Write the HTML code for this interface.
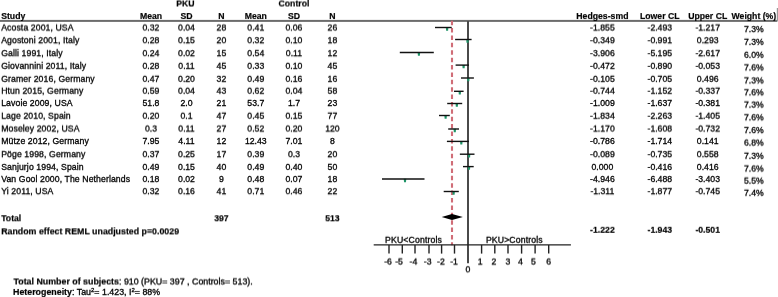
<!DOCTYPE html><html><head><meta charset="utf-8"><style>html,body{margin:0;padding:0;background:#fff;overflow:hidden;width:778px;height:297px;}body{position:relative;}svg{display:block;position:absolute;left:0;top:0;overflow:visible;}.L{position:absolute;left:0;width:778px;height:18px;will-change:transform;}text{font-family:"Liberation Sans",sans-serif;fill:#000;stroke:#000;stroke-width:0.32px;}.t{font-size:9.483px;}.f{font-size:8.70px;}.b{font-weight:bold;stroke-width:0.2px;}.m{text-anchor:middle;}</style></head><body>
<svg width="778" height="297" viewBox="0 0 778 297" style="will-change:transform">
<rect x="0" y="19.9" width="777" height="2" fill="#6c6c6c"/>
<rect x="776.8" y="8" width="1.2" height="13.5" fill="#9a9a9a"/>
<line x1="468" y1="21" x2="468" y2="263.2" stroke="#4a4a4a" stroke-width="2"/>
<line x1="452" y1="20.7" x2="452" y2="245.2" stroke="#d06d77" stroke-width="2.1" stroke-dasharray="4.5 2.887"/>
<polygon points="445.85,27.30 448.35,27.30 448.10,30.70 446.10,30.70" fill="#1f9468"/>
<line x1="435.0" y1="27.5" x2="451.7" y2="27.5" stroke="#111" stroke-width="1.4"/>
<polygon points="466.25,39.30 468.75,39.30 468.50,42.70 466.50,42.70" fill="#1f9468"/>
<line x1="455.1" y1="39.5" x2="471.6" y2="39.5" stroke="#111" stroke-width="1.4"/>
<polygon points="417.65,52.35 420.15,52.35 419.90,55.75 417.90,55.75" fill="#1f9468"/>
<line x1="399.8" y1="52.55" x2="433.8" y2="52.55" stroke="#111" stroke-width="1.4"/>
<polygon points="462.35,64.90 464.85,64.90 464.60,68.30 462.60,68.30" fill="#1f9468"/>
<line x1="455.6" y1="65.1" x2="469.0" y2="65.1" stroke="#111" stroke-width="1.4"/>
<polygon points="467.05,77.80 469.55,77.80 469.30,81.20 467.30,81.20" fill="#1f9468"/>
<line x1="461.0" y1="78.0" x2="473.9" y2="78.0" stroke="#111" stroke-width="1.4"/>
<polygon points="458.55,91.10 461.05,91.10 460.80,94.50 458.80,94.50" fill="#1f9468"/>
<line x1="454.0" y1="91.3" x2="463.6" y2="91.3" stroke="#111" stroke-width="1.4"/>
<polygon points="455.55,103.30 458.05,103.30 457.80,106.70 455.80,106.70" fill="#1f9468"/>
<line x1="447.2" y1="103.5" x2="462.2" y2="103.5" stroke="#111" stroke-width="1.4"/>
<polygon points="444.35,115.30 446.85,115.30 446.60,118.70 444.60,118.70" fill="#1f9468"/>
<line x1="439.0" y1="115.5" x2="449.8" y2="115.5" stroke="#111" stroke-width="1.4"/>
<polygon points="453.55,128.80 456.05,128.80 455.80,132.20 453.80,132.20" fill="#1f9468"/>
<line x1="448.2" y1="129.0" x2="459.0" y2="129.0" stroke="#111" stroke-width="1.4"/>
<polygon points="460.05,141.20 462.55,141.20 462.30,144.60 460.30,144.60" fill="#1f9468"/>
<line x1="446.9" y1="141.4" x2="468.9" y2="141.4" stroke="#111" stroke-width="1.4"/>
<polygon points="467.85,154.00 470.35,154.00 470.10,157.40 468.10,157.40" fill="#1f9468"/>
<line x1="459.85" y1="154.2" x2="474.5" y2="154.2" stroke="#111" stroke-width="1.4"/>
<polygon points="467.75,166.40 470.25,166.40 470.00,169.80 468.00,169.80" fill="#1f9468"/>
<line x1="463.0" y1="166.6" x2="473.7" y2="166.6" stroke="#111" stroke-width="1.4"/>
<polygon points="403.75,178.85 406.25,178.85 406.00,182.25 404.00,182.25" fill="#1f9468"/>
<line x1="382.0" y1="179.05" x2="424.5" y2="179.05" stroke="#111" stroke-width="1.4"/>
<polygon points="452.35,191.30 454.85,191.30 454.60,194.70 452.60,194.70" fill="#1f9468"/>
<line x1="443.7" y1="191.5" x2="458.8" y2="191.5" stroke="#111" stroke-width="1.4"/>
<polygon points="441.7,217 452,214 462.9,217 452,220" fill="#000"/>
<line x1="373.7" y1="244.9" x2="570.9" y2="244.9" stroke="#222" stroke-width="1.4"/>
<line x1="389.00" y1="244.9" x2="389.00" y2="253.6" stroke="#222" stroke-width="1.4"/>
<line x1="402.30" y1="244.9" x2="402.30" y2="253.6" stroke="#222" stroke-width="1.4"/>
<line x1="415.00" y1="244.9" x2="415.00" y2="253.6" stroke="#222" stroke-width="1.4"/>
<line x1="429.00" y1="244.9" x2="429.00" y2="253.6" stroke="#222" stroke-width="1.4"/>
<line x1="441.60" y1="244.9" x2="441.60" y2="253.6" stroke="#222" stroke-width="1.4"/>
<line x1="454.50" y1="244.9" x2="454.50" y2="253.6" stroke="#222" stroke-width="1.4"/>
<line x1="481.60" y1="244.9" x2="481.60" y2="253.6" stroke="#222" stroke-width="1.4"/>
<line x1="494.80" y1="244.9" x2="494.80" y2="253.6" stroke="#222" stroke-width="1.4"/>
<line x1="508.00" y1="244.9" x2="508.00" y2="253.6" stroke="#222" stroke-width="1.4"/>
<line x1="521.60" y1="244.9" x2="521.60" y2="253.6" stroke="#222" stroke-width="1.4"/>
<line x1="535.10" y1="244.9" x2="535.10" y2="253.6" stroke="#222" stroke-width="1.4"/>
<line x1="548.70" y1="244.9" x2="548.70" y2="253.6" stroke="#222" stroke-width="1.4"/>
</svg>
<div class="L" style="top:-7px;transform:translateY(0.500px) rotate(0.001deg)"><svg width="778" height="18">
<g class="t" transform="scale(0.91743 1)">
<text class="b m" x="202.09" y="13">PKU</text>
<text class="b m" x="320.46" y="13">Control</text>
</g></svg></div>
<div class="L" style="top:6px;transform:translateY(0.050px) rotate(0.001deg)"><svg width="778" height="18">
<g class="t" transform="scale(0.91743 1)">
<text class="b" x="1.31" y="13">Study</text>
<text class="b m" x="164.59" y="13">Mean</text>
<text class="b m" x="203.29" y="13">SD</text>
<text class="b m" x="241.33" y="13">N</text>
<text class="b m" x="278.82" y="13">Mean</text>
<text class="b m" x="320.46" y="13">SD</text>
<text class="b m" x="362.32" y="13">N</text>
<text class="b m" x="656.62" y="13">Hedges-smd</text>
<text class="b m" x="719.18" y="13">Lower CL</text>
<text class="b m" x="771.39" y="13">Upper CL</text>
<text class="b m" x="821.75" y="13">Weight (%)</text>
</g></svg></div>
<div class="L" style="top:17px;transform:translateY(0.550px) rotate(0.001deg)"><svg width="778" height="18">
<g class="t" transform="scale(0.91743 1)">
<text x="1.31" y="13" letter-spacing="0.104">Acosta 2001, USA</text>
<text class="m" x="164.59" y="13">0.32</text>
<text class="m" x="203.29" y="13">0.04</text>
<text class="m" x="241.33" y="13">28</text>
<text class="m" x="278.82" y="13">0.41</text>
<text class="m" x="320.46" y="13">0.06</text>
<text class="m" x="362.32" y="13">26</text>
<text class="m" x="656.62" y="13">-1.855</text>
<text class="m" x="719.18" y="13">-2.493</text>
<text class="m" x="771.39" y="13">-1.217</text>
</g></svg></div>
<div class="L" style="top:19px;transform:translateY(0.150px) rotate(0.001deg)"><svg width="778" height="18">
<g class="t" transform="scale(0.91743 1)">
<text class="m" x="821.75" y="13">7.3%</text>
</g></svg></div>
<div class="L" style="top:30px;transform:translateY(0.250px) rotate(0.001deg)"><svg width="778" height="18">
<g class="t" transform="scale(0.91743 1)">
<text x="1.31" y="13" letter-spacing="0.104">Agostoni 2001, Italy</text>
<text class="m" x="164.59" y="13">0.28</text>
<text class="m" x="203.29" y="13">0.15</text>
<text class="m" x="241.33" y="13">20</text>
<text class="m" x="278.82" y="13">0.32</text>
<text class="m" x="320.46" y="13">0.10</text>
<text class="m" x="362.32" y="13">18</text>
<text class="m" x="656.62" y="13">-0.349</text>
<text class="m" x="719.18" y="13">-0.991</text>
<text class="m" x="771.39" y="13">0.293</text>
</g></svg></div>
<div class="L" style="top:31px;transform:translateY(0.850px) rotate(0.001deg)"><svg width="778" height="18">
<g class="t" transform="scale(0.91743 1)">
<text class="m" x="821.75" y="13">7.3%</text>
</g></svg></div>
<div class="L" style="top:43px;transform:translateY(0.200px) rotate(0.001deg)"><svg width="778" height="18">
<g class="t" transform="scale(0.91743 1)">
<text x="1.31" y="13" letter-spacing="0.104">Galli 1991, Italy</text>
<text class="m" x="164.59" y="13">0.24</text>
<text class="m" x="203.29" y="13">0.02</text>
<text class="m" x="241.33" y="13">15</text>
<text class="m" x="278.82" y="13">0.54</text>
<text class="m" x="320.46" y="13">0.11</text>
<text class="m" x="362.32" y="13">12</text>
<text class="m" x="656.62" y="13">-3.906</text>
<text class="m" x="719.18" y="13">-5.195</text>
<text class="m" x="771.39" y="13">-2.617</text>
</g></svg></div>
<div class="L" style="top:44px;transform:translateY(0.800px) rotate(0.001deg)"><svg width="778" height="18">
<g class="t" transform="scale(0.91743 1)">
<text class="m" x="821.75" y="13">6.0%</text>
</g></svg></div>
<div class="L" style="top:55px;transform:translateY(0.850px) rotate(0.001deg)"><svg width="778" height="18">
<g class="t" transform="scale(0.91743 1)">
<text x="1.31" y="13" letter-spacing="0.104">Giovannini 2011, Italy</text>
<text class="m" x="164.59" y="13">0.28</text>
<text class="m" x="203.29" y="13">0.11</text>
<text class="m" x="241.33" y="13">45</text>
<text class="m" x="278.82" y="13">0.33</text>
<text class="m" x="320.46" y="13">0.10</text>
<text class="m" x="362.32" y="13">45</text>
<text class="m" x="656.62" y="13">-0.472</text>
<text class="m" x="719.18" y="13">-0.890</text>
<text class="m" x="771.39" y="13">-0.053</text>
</g></svg></div>
<div class="L" style="top:57px;transform:translateY(0.450px) rotate(0.001deg)"><svg width="778" height="18">
<g class="t" transform="scale(0.91743 1)">
<text class="m" x="821.75" y="13">7.6%</text>
</g></svg></div>
<div class="L" style="top:68px;transform:translateY(0.850px) rotate(0.001deg)"><svg width="778" height="18">
<g class="t" transform="scale(0.91743 1)">
<text x="1.31" y="13" letter-spacing="0.104">Gramer 2016, Germany</text>
<text class="m" x="164.59" y="13">0.47</text>
<text class="m" x="203.29" y="13">0.20</text>
<text class="m" x="241.33" y="13">32</text>
<text class="m" x="278.82" y="13">0.49</text>
<text class="m" x="320.46" y="13">0.16</text>
<text class="m" x="362.32" y="13">16</text>
<text class="m" x="656.62" y="13">-0.105</text>
<text class="m" x="719.18" y="13">-0.705</text>
<text class="m" x="771.39" y="13">0.496</text>
</g></svg></div>
<div class="L" style="top:70px;transform:translateY(0.450px) rotate(0.001deg)"><svg width="778" height="18">
<g class="t" transform="scale(0.91743 1)">
<text class="m" x="821.75" y="13">7.3%</text>
</g></svg></div>
<div class="L" style="top:80px;transform:translateY(0.750px) rotate(0.001deg)"><svg width="778" height="18">
<g class="t" transform="scale(0.91743 1)">
<text x="1.31" y="13" letter-spacing="0.104">Htun 2015, Germany</text>
<text class="m" x="164.59" y="13">0.59</text>
<text class="m" x="203.29" y="13">0.04</text>
<text class="m" x="241.33" y="13">43</text>
<text class="m" x="278.82" y="13">0.62</text>
<text class="m" x="320.46" y="13">0.04</text>
<text class="m" x="362.32" y="13">58</text>
<text class="m" x="656.62" y="13">-0.744</text>
<text class="m" x="719.18" y="13">-1.152</text>
<text class="m" x="771.39" y="13">-0.337</text>
</g></svg></div>
<div class="L" style="top:82px;transform:translateY(0.350px) rotate(0.001deg)"><svg width="778" height="18">
<g class="t" transform="scale(0.91743 1)">
<text class="m" x="821.75" y="13">7.6%</text>
</g></svg></div>
<div class="L" style="top:93px;transform:translateY(0.000px) rotate(0.001deg)"><svg width="778" height="18">
<g class="t" transform="scale(0.91743 1)">
<text x="1.31" y="13" letter-spacing="0.104">Lavoie 2009, USA</text>
<text class="m" x="164.59" y="13">51.8</text>
<text class="m" x="203.29" y="13">2.0</text>
<text class="m" x="241.33" y="13">21</text>
<text class="m" x="278.82" y="13">53.7</text>
<text class="m" x="320.46" y="13">1.7</text>
<text class="m" x="362.32" y="13">23</text>
<text class="m" x="656.62" y="13">-1.009</text>
<text class="m" x="719.18" y="13">-1.637</text>
<text class="m" x="771.39" y="13">-0.381</text>
</g></svg></div>
<div class="L" style="top:94px;transform:translateY(0.600px) rotate(0.001deg)"><svg width="778" height="18">
<g class="t" transform="scale(0.91743 1)">
<text class="m" x="821.75" y="13">7.3%</text>
</g></svg></div>
<div class="L" style="top:105px;transform:translateY(0.750px) rotate(0.001deg)"><svg width="778" height="18">
<g class="t" transform="scale(0.91743 1)">
<text x="1.31" y="13" letter-spacing="0.104">Lage 2010, Spain</text>
<text class="m" x="164.59" y="13">0.20</text>
<text class="m" x="203.29" y="13">0.1</text>
<text class="m" x="241.33" y="13">47</text>
<text class="m" x="278.82" y="13">0.45</text>
<text class="m" x="320.46" y="13">0.15</text>
<text class="m" x="362.32" y="13">77</text>
<text class="m" x="656.62" y="13">-1.834</text>
<text class="m" x="719.18" y="13">-2.263</text>
<text class="m" x="771.39" y="13">-1.405</text>
</g></svg></div>
<div class="L" style="top:107px;transform:translateY(0.350px) rotate(0.001deg)"><svg width="778" height="18">
<g class="t" transform="scale(0.91743 1)">
<text class="m" x="821.75" y="13">7.6%</text>
</g></svg></div>
<div class="L" style="top:118px;transform:translateY(0.550px) rotate(0.001deg)"><svg width="778" height="18">
<g class="t" transform="scale(0.91743 1)">
<text x="1.31" y="13" letter-spacing="0.104">Moseley 2002, USA</text>
<text class="m" x="164.59" y="13">0.3</text>
<text class="m" x="203.29" y="13">0.11</text>
<text class="m" x="241.33" y="13">27</text>
<text class="m" x="278.82" y="13">0.52</text>
<text class="m" x="320.46" y="13">0.20</text>
<text class="m" x="362.32" y="13">120</text>
<text class="m" x="656.62" y="13">-1.170</text>
<text class="m" x="719.18" y="13">-1.608</text>
<text class="m" x="771.39" y="13">-0.732</text>
</g></svg></div>
<div class="L" style="top:120px;transform:translateY(0.150px) rotate(0.001deg)"><svg width="778" height="18">
<g class="t" transform="scale(0.91743 1)">
<text class="m" x="821.75" y="13">7.6%</text>
</g></svg></div>
<div class="L" style="top:131px;transform:translateY(0.000px) rotate(0.001deg)"><svg width="778" height="18">
<g class="t" transform="scale(0.91743 1)">
<text x="1.31" y="13" letter-spacing="0.104">Mütze 2012, Germany</text>
<text class="m" x="164.59" y="13">7.95</text>
<text class="m" x="203.29" y="13">4.11</text>
<text class="m" x="241.33" y="13">12</text>
<text class="m" x="278.82" y="13">12.43</text>
<text class="m" x="320.46" y="13">7.01</text>
<text class="m" x="362.32" y="13">8</text>
<text class="m" x="656.62" y="13">-0.786</text>
<text class="m" x="719.18" y="13">-1.714</text>
<text class="m" x="771.39" y="13">0.141</text>
</g></svg></div>
<div class="L" style="top:132px;transform:translateY(0.600px) rotate(0.001deg)"><svg width="778" height="18">
<g class="t" transform="scale(0.91743 1)">
<text class="m" x="821.75" y="13">6.8%</text>
</g></svg></div>
<div class="L" style="top:144px;transform:translateY(0.200px) rotate(0.001deg)"><svg width="778" height="18">
<g class="t" transform="scale(0.91743 1)">
<text x="1.31" y="13" letter-spacing="0.104">Pöge 1998, Germany</text>
<text class="m" x="164.59" y="13">0.37</text>
<text class="m" x="203.29" y="13">0.25</text>
<text class="m" x="241.33" y="13">17</text>
<text class="m" x="278.82" y="13">0.39</text>
<text class="m" x="320.46" y="13">0.3</text>
<text class="m" x="362.32" y="13">20</text>
<text class="m" x="656.62" y="13">-0.089</text>
<text class="m" x="719.18" y="13">-0.735</text>
<text class="m" x="771.39" y="13">0.558</text>
</g></svg></div>
<div class="L" style="top:145px;transform:translateY(0.800px) rotate(0.001deg)"><svg width="778" height="18">
<g class="t" transform="scale(0.91743 1)">
<text class="m" x="821.75" y="13">7.3%</text>
</g></svg></div>
<div class="L" style="top:156px;transform:translateY(0.950px) rotate(0.001deg)"><svg width="778" height="18">
<g class="t" transform="scale(0.91743 1)">
<text x="1.31" y="13" letter-spacing="0.104">Sanjurjo 1994, Spain</text>
<text class="m" x="164.59" y="13">0.49</text>
<text class="m" x="203.29" y="13">0.15</text>
<text class="m" x="241.33" y="13">40</text>
<text class="m" x="278.82" y="13">0.49</text>
<text class="m" x="320.46" y="13">0.40</text>
<text class="m" x="362.32" y="13">50</text>
<text class="m" x="656.62" y="13">0.000</text>
<text class="m" x="719.18" y="13">-0.416</text>
<text class="m" x="771.39" y="13">0.416</text>
</g></svg></div>
<div class="L" style="top:158px;transform:translateY(0.550px) rotate(0.001deg)"><svg width="778" height="18">
<g class="t" transform="scale(0.91743 1)">
<text class="m" x="821.75" y="13">7.6%</text>
</g></svg></div>
<div class="L" style="top:169px;transform:translateY(0.050px) rotate(0.001deg)"><svg width="778" height="18">
<g class="t" transform="scale(0.91743 1)">
<text x="1.31" y="13" letter-spacing="0.104">Van Gool 2000, The Netherlands</text>
<text class="m" x="164.59" y="13">0.18</text>
<text class="m" x="203.29" y="13">0.02</text>
<text class="m" x="241.33" y="13">9</text>
<text class="m" x="278.82" y="13">0.48</text>
<text class="m" x="320.46" y="13">0.07</text>
<text class="m" x="362.32" y="13">18</text>
<text class="m" x="656.62" y="13">-4.946</text>
<text class="m" x="719.18" y="13">-6.488</text>
<text class="m" x="771.39" y="13">-3.403</text>
</g></svg></div>
<div class="L" style="top:170px;transform:translateY(0.650px) rotate(0.001deg)"><svg width="778" height="18">
<g class="t" transform="scale(0.91743 1)">
<text class="m" x="821.75" y="13">5.5%</text>
</g></svg></div>
<div class="L" style="top:181px;transform:translateY(0.200px) rotate(0.001deg)"><svg width="778" height="18">
<g class="t" transform="scale(0.91743 1)">
<text x="1.31" y="13" letter-spacing="0.104">Yi 2011, USA</text>
<text class="m" x="164.59" y="13">0.32</text>
<text class="m" x="203.29" y="13">0.16</text>
<text class="m" x="241.33" y="13">41</text>
<text class="m" x="278.82" y="13">0.71</text>
<text class="m" x="320.46" y="13">0.46</text>
<text class="m" x="362.32" y="13">22</text>
<text class="m" x="656.62" y="13">-1.311</text>
<text class="m" x="719.18" y="13">-1.877</text>
<text class="m" x="771.39" y="13">-0.745</text>
</g></svg></div>
<div class="L" style="top:182px;transform:translateY(0.800px) rotate(0.001deg)"><svg width="778" height="18">
<g class="t" transform="scale(0.91743 1)">
<text class="m" x="821.75" y="13">7.4%</text>
</g></svg></div>
<div class="L" style="top:208px;transform:translateY(0.300px) rotate(0.001deg)"><svg width="778" height="18">
<g class="t" transform="scale(0.91743 1)">
<text class="b" x="1.31" y="13">Total</text>
<text class="b m" x="241.33" y="13">397</text>
<text class="b m" x="362.32" y="13">513</text>
</g></svg></div>
<div class="L" style="top:221px;transform:translateY(0.400px) rotate(0.001deg)"><svg width="778" height="18">
<g class="t" transform="scale(0.91743 1)">
<text class="b" x="1.31" y="13" style="font-size:9.625px">Random effect REML unadjusted p=0.0029</text>
</g></svg></div>
<div class="L" style="top:219px;transform:translateY(0.800px) rotate(0.001deg)"><svg width="778" height="18">
<g class="t" transform="scale(0.91743 1)">
<text class="b m" x="656.62" y="13">-1.222</text>
<text class="b m" x="719.18" y="13">-1.943</text>
<text class="b m" x="771.39" y="13">-0.501</text>
</g></svg></div>
<div class="L" style="top:229px;transform:translateY(0.850px) rotate(0.001deg)"><svg width="778" height="18">
<g class="f">
<text x="385.1" y="13" letter-spacing="0.13">PKU&lt;Controls</text>
<text x="485.9" y="13" letter-spacing="0.13">PKU&gt;Controls</text>
</g></svg></div>
<div class="L" style="top:251px;transform:translateY(0.550px) rotate(0.001deg)"><svg width="778" height="18">
<g class="f">
<text class="m" x="388.05" y="13">-6</text>
<text class="m" x="399.10" y="13">-5</text>
<text class="m" x="413.40" y="13">-4</text>
<text class="m" x="427.70" y="13">-3</text>
<text class="m" x="440.90" y="13">-2</text>
<text class="m" x="454.00" y="13">-1</text>
<text class="m" x="480.20" y="13">1</text>
<text class="m" x="493.80" y="13">2</text>
<text class="m" x="507.80" y="13">3</text>
<text class="m" x="520.30" y="13">4</text>
<text class="m" x="533.40" y="13">5</text>
<text class="m" x="548.60" y="13">6</text>
</g></svg></div>
<div class="L" style="top:259px;transform:translateY(0.350px) rotate(0.001deg)"><svg width="778" height="18">
<g class="f">
<text class="m" x="468" y="13">0</text>
</g></svg></div>
<div class="L" style="top:271px;transform:translateY(0.500px) rotate(0.001deg)"><svg width="778" height="18">
<g class="f">
<text x="13.5" y="13" style="font-size:8.85px"><tspan class="b">Total Number of subjects</tspan>: 910 (PKU= 397 , Controls= 513).</text>
</g></svg></div>
<div class="L" style="top:281px;transform:translateY(0.950px) rotate(0.001deg)"><svg width="778" height="18">
<g class="f">
<text x="13.0" y="13" style="font-size:8.85px"><tspan class="b">Heterogeneity</tspan>: Tau<tspan font-size="6" dy="-3.2">2</tspan><tspan dy="3.2">= 1.423, I</tspan><tspan font-size="6" dy="-3.2">2</tspan><tspan dy="3.2">= 88%</tspan></text>
</g></svg></div>
</body></html>
